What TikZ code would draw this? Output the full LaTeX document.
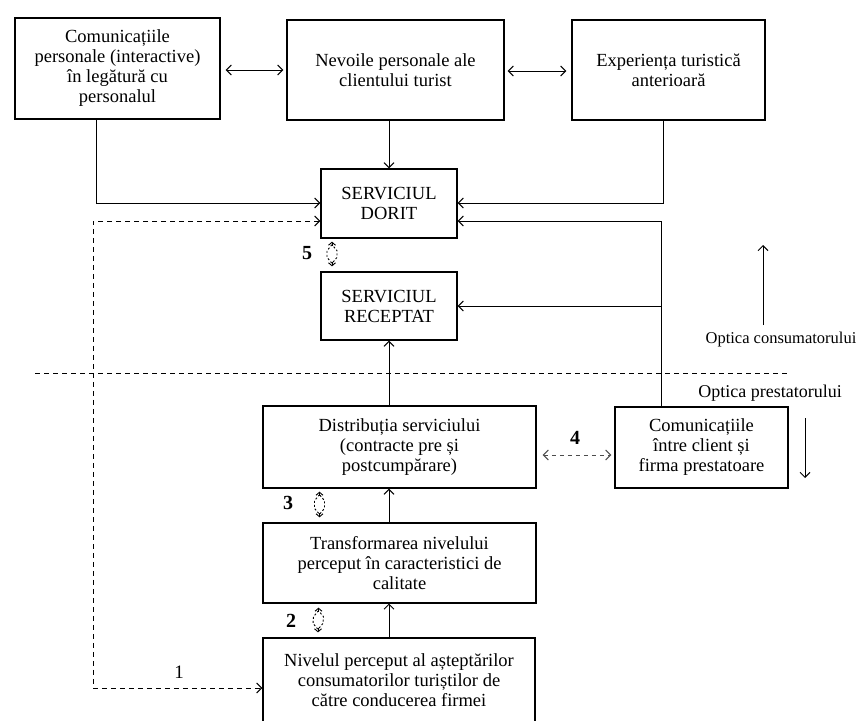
\documentclass[tikz,border=0pt]{standalone}
\usepackage{fontspec}
\setmainfont{Liberation Serif}
\usetikzlibrary{arrows.meta}
\begin{document}
\begin{tikzpicture}[x=1pt,y=-1pt,
  >={Straight Barb[length=5pt,width=10pt]},
  box/.style={draw,line width=1.3pt,inner sep=0pt,align=center,
    font=\fontsize{18.5}{20}\selectfont},
  conn/.style={line width=1pt},
  dsh/.style={line width=1pt,dash pattern=on 5pt off 4pt},
  lensd/.style={line width=0.9pt,dash pattern=on 2pt off 2pt},
  tip/.style={line width=0.9pt,-{Straight Barb[length=3pt,width=7pt]}},
  num/.style={font=\fontsize{20}{22}\selectfont\bfseries,inner sep=0pt},
  lbl/.style={inner sep=0pt}
]
\useasboundingbox (0,0) rectangle (858,720);
% boxes
\node[box,minimum width=205pt,minimum height=101pt] (b1) at (117.5,68.5)
  {Comunicațiile\\personale (interactive)\\în legătură cu\\personalul};
\node[box,minimum width=217pt,minimum height=100pt] (b2) at (395.5,70)
  {Nevoile personale ale\\clientului turist};
\node[box,minimum width=193pt,minimum height=100pt] (b3) at (668.5,70)
  {Experiența turistică\\anterioară};
\node[box,minimum width=136pt,minimum height=69pt] (dorit) at (389,203.5)
  {SERVICIUL\\DORIT};
\node[box,minimum width=136pt,minimum height=68pt] (rec) at (389,306)
  {SERVICIUL\\RECEPTAT};
\node[box,minimum width=273pt,minimum height=82pt] (dist) at (399.5,447)
  {Distribuția serviciului\\(contracte pre și\\postcumpărare)};
\node[box,minimum width=173pt,minimum height=81pt] (cc) at (701.5,447.5)
  {Comunicațiile\\între client și\\firma prestatoare};
\node[box,minimum width=273pt,minimum height=80pt] (trans) at (399.5,563)
  {Transformarea nivelului\\perceput în caracteristici de\\calitate};
\node[box,minimum width=272pt,minimum height=84pt] (niv) at (399,680)
  {Nivelul perceput al așteptărilor\\consumatorilor turiștilor de\\către conducerea firmei};

% labels
\node[lbl,font=\fontsize{16.5}{20}\selectfont] (oc) at (781,340) {Optica consumatorului};
\node[lbl,font=\fontsize{18}{20}\selectfont] (op) at (770,393) {Optica prestatorului};
\node[num] (n5) at (307,253) {5};
\node[num] (n3) at (288,503) {3};
\node[num] (n2) at (291,621) {2};
\node[num] (n4) at (575,438) {4};
\node[lbl,font=\fontsize{19}{20}\selectfont] (n1) at (179,672) {1};

% helper coordinates
\coordinate (yA) at (0,203);
\coordinate (yB) at (0,221);
\coordinate (yN) at (0,688);
\coordinate (y4) at (0,455);
\coordinate (xL) at (93,0);
\coordinate (b1x) at ([xshift=-21.5pt]b1.south);
\coordinate (b3x) at ([xshift=-5.5pt]b3.south);
\coordinate (ccTop) at ([xshift=-40.5pt]cc.north);
\coordinate (sepL) at (35,373);
\coordinate (sepR) at (787,373);
\coordinate (upA) at (763,325);
\coordinate (upB) at (763,245);
\coordinate (dnA) at (805,418);
\coordinate (dnB) at (805,478);

% top double arrows
\draw[conn,<->,shorten <=5pt,shorten >=3pt] (b1.east |- b2.west) -- (b2.west);
\draw[conn,<->,shorten <=3pt,shorten >=5pt] (b2.east |- 0,71) -- (b3.west |- 0,71);

% into SERVICIUL DORIT
\draw[conn,->] (dorit.north |- b2.south) -- (dorit.north);
\draw[conn,->] (b1x) |- (dorit.west |- yA);
\draw[conn,->] (b3x) |- (dorit.east |- yA);
\draw[conn,->] (ccTop) |- (dorit.east |- yB);
\draw[conn,->] (ccTop |- rec.east) -- (rec.east);

% dashed loop 1
\draw[dsh,<->] (dorit.west |- yB) -- (xL |- yB) -- (xL |- yN) -- (niv.west |- yN);

% separator
\draw[line width=1pt,dash pattern=on 5pt off 4pt] (sepL) -- (sepR);

% optics arrows
\draw[conn,->] (upA) -- (upB);
\draw[conn,->] (dnA) -- (dnB);

% vertical chain
\draw[conn,->] (rec.south |- dist.north) -- (rec.south);
\draw[conn,->] (rec.south |- trans.north) -- (rec.south |- dist.south);
\draw[line width=0.8pt,->] (rec.south |- niv.north) -- (rec.south |- trans.south);

% arrow 4
\draw[line width=1pt,dash pattern=on 4pt off 4pt,black!70,<->,shorten <=6pt,shorten >=3pt]
  (dist.east |- y4) -- (cc.west |- y4);

% lens connectors 5, 3, 2
\coordinate (l5a) at ([xshift=-57pt,yshift=-3pt]dorit.south);
\coordinate (l5b) at ([xshift=-57pt,yshift=5pt]rec.north);
\coordinate (l3a) at ([xshift=-80pt,yshift=-3pt]dist.south);
\coordinate (l3b) at ([xshift=-80pt,yshift=5pt]trans.north);
\coordinate (l2a) at ([xshift=-81pt,yshift=-4pt]trans.south);
\coordinate (l2b) at ([xshift=-81pt,yshift=5pt]niv.north);
\foreach \a/\b in {l5a/l5b,l3a/l3b,l2a/l2b}{
  \draw[lensd] ([yshift=-3pt]\a) -- ([xshift=-5pt,yshift=-9pt]\a)
     -- ([xshift=-5pt,yshift=9pt]\b) -- ([yshift=3pt]\b)
     -- ([xshift=5pt,yshift=9pt]\b) -- ([xshift=5pt,yshift=-9pt]\a) -- cycle;
  \draw[tip] ([yshift=-4pt]\a) -- (\a);
  \draw[tip] ([yshift=4pt]\b) -- (\b);
}
\end{tikzpicture}
\end{document}
